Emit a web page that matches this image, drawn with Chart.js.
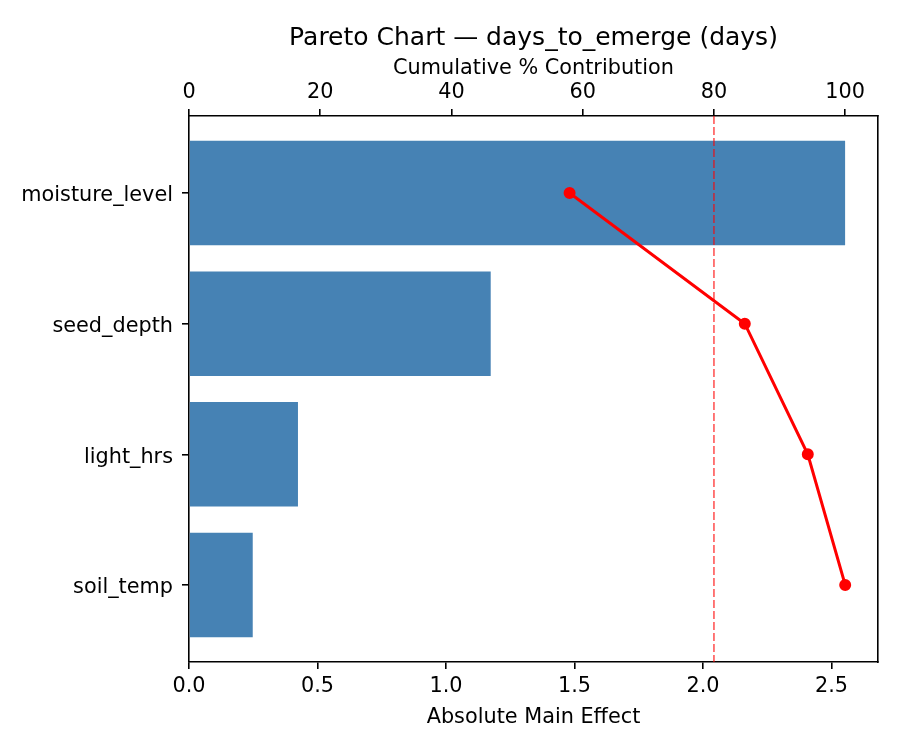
<!DOCTYPE html>
<html>
<head>
<meta charset="utf-8">
<script src="https://cdn.jsdelivr.net/npm/chart.js@4"></script>
<style>
  body { margin: 0; background: #fff; }
  canvas { display: block; }
</style>
</head>
<body>
<canvas id="paretoChart" width="900" height="750"></canvas>
<script>
const factors = ["moisture_level", "seed_depth", "light_hrs", "soil_temp"];
const mainEffects = [2.553, 1.174, 0.424, 0.248];
const cumulativePct = [58.0, 84.7, 94.3, 100.0];
const effectTicks = [0, 0.5, 1.0, 1.5, 2.0, 2.5];
const pctTicks = [0, 20, 40, 60, 80, 100];
const thresholdPct = 80;

const FONT = "'DejaVu Sans', sans-serif";
Chart.defaults.color = '#000';
Chart.defaults.font.family = FONT;

const tickFont = { size: 20.8, lineHeight: 1.2 };
const axisGrid = { display: true, offset: false, drawOnChartArea: false, drawTicks: true, tickLength: 7, color: '#000', lineWidth: 1.6 };
const axisBorder = { display: true, color: '#000', width: 1.6 };

// matplotlib-ish title centred over the plot area
const titlePlugin = {
  id: 'plotTitle',
  afterDraw(chart) {
    const { ctx, chartArea } = chart;
    ctx.save();
    ctx.font = `25px ${FONT}`;
    ctx.fillStyle = '#000';
    ctx.textAlign = 'center';
    ctx.textBaseline = 'middle';
    ctx.fillText('Pareto Chart — days_to_emerge (days)', (chartArea.left + chartArea.right) / 2, 38);
    ctx.restore();
  }
};

const ctx = document.getElementById('paretoChart').getContext('2d');

new Chart(ctx, {
  type: 'bar',
  data: {
    datasets: [
      {
        type: 'line',
        label: 'Cumulative %',
        data: factors.map((_, i) => ({ x: cumulativePct[i], y: i })),
        xAxisID: 'x2',
        yAxisID: 'y',
        borderColor: 'red',
        backgroundColor: 'red',
        borderWidth: 3,
        pointRadius: 4.5,
        pointHoverRadius: 4.5,
        order: 1
      },
      {
        type: 'line',
        label: '80% threshold',
        data: [{ x: thresholdPct, y: -0.59 }, { x: thresholdPct, y: 3.59 }],
        xAxisID: 'x2',
        yAxisID: 'y',
        borderColor: 'rgba(255, 0, 0, 0.7)',
        borderWidth: 1.5,
        borderDash: [8, 3],
        pointRadius: 0,
        order: 2
      },
      {
        label: 'Absolute Main Effect',
        data: factors.map((_, i) => ({ x: mainEffects[i], y: i })),
        xAxisID: 'x',
        yAxisID: 'y',
        backgroundColor: '#4682b4',
        borderWidth: 0,
        categoryPercentage: 1.0,
        barPercentage: 0.8,
        order: 3
      }
    ]
  },
  options: {
    indexAxis: 'y',
    responsive: false,
    animation: false,
    layout: { padding: { top: 50, right: 22, bottom: 0, left: 0 } },
    scales: {
      x: {
        type: 'linear',
        position: 'bottom',
        min: 0,
        max: 2.681,
        afterBuildTicks: axis => { axis.ticks = effectTicks.map(v => ({ value: v })); },
        afterFit: axis => { axis.height = 88; },
        ticks: { font: tickFont, padding: 5, maxRotation: 0, callback: v => v.toFixed(1) },
        grid: axisGrid,
        border: axisBorder,
        title: { display: true, text: 'Absolute Main Effect', font: tickFont, padding: { top: 0, bottom: 20 } }
      },
      x2: {
        type: 'linear',
        position: 'top',
        min: 0,
        max: 105,
        afterBuildTicks: axis => { axis.ticks = pctTicks.map(v => ({ value: v })); },
        afterFit: axis => { axis.height = 66; },
        ticks: { font: tickFont, padding: 4, maxRotation: 0 },
        grid: axisGrid,
        border: axisBorder,
        title: { display: true, text: 'Cumulative % Contribution', font: tickFont, padding: { top: 6, bottom: 0 } }
      },
      y: {
        type: 'linear',
        position: 'left',
        reverse: true,
        offset: false,
        min: -0.59,
        max: 3.59,
        afterBuildTicks: axis => { axis.ticks = factors.map((_, i) => ({ value: i })); },
        afterFit: axis => { axis.width = 189; },
        ticks: { font: tickFont, padding: 9, labelOffset: 3, callback: v => factors[v] },
        grid: axisGrid,
        border: axisBorder
      },
      yRight: {
        type: 'linear',
        position: 'right',
        offset: false,
        min: -0.59,
        max: 3.59,
        afterFit: axis => { axis.width = 0; },
        ticks: { display: false },
        grid: { display: false },
        border: axisBorder
      }
    },
    plugins: {
      legend: { display: false },
      tooltip: { enabled: false }
    }
  },
  plugins: [titlePlugin]
});
</script>
</body>
</html>
